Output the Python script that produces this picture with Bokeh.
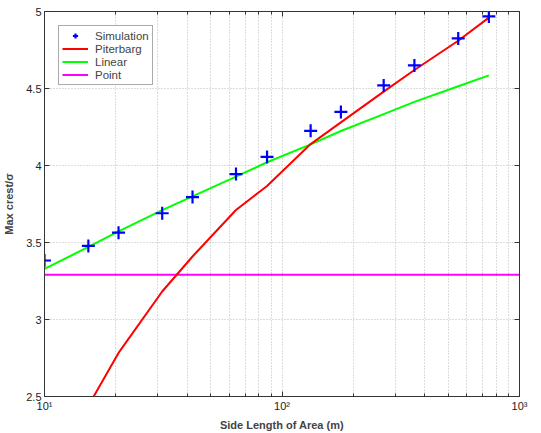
from bokeh.plotting import figure
from bokeh.models import (Range1d, FixedTicker, LinearAxis, LogAxis, Legend, LegendItem)
from bokeh.embed import file_html
from bokeh.resources import INLINE

# data
side_length = [10, 15.3, 20.5, 31.3, 42, 64, 86.5, 132, 177, 268, 361, 552, 743]
simulation = [3.383, 3.478, 3.564, 3.69, 3.795, 3.944, 4.056, 4.225, 4.348, 4.52, 4.65, 4.825, 4.968]
linear = [3.329, 3.471, 3.572, 3.71, 3.80, 3.928, 4.021, 4.137, 4.224, 4.334, 4.413, 4.515, 4.585]
pit_x = [15.3, 20.5, 31.3, 42, 64, 86.5, 132, 177, 268, 361, 552, 743]
piterbarg = [2.44, 2.783, 3.182, 3.409, 3.711, 3.867, 4.139, 4.28, 4.48, 4.62, 4.81, 4.96]
point_x = [10, 1000]
point = [3.29, 3.29]

x_major = [10, 100, 1000]
x_minor = [20, 30, 40, 50, 60, 70, 80, 90, 200, 300, 400, 500, 600, 700, 800, 900]
x_labels = {10: "10¹", 100: "10²", 1000: "10³"}
y_ticks = [2.5, 3, 3.5, 4, 4.5, 5]
y_labels = {2.5: "2.5", 3: "3", 3.5: "3.5", 4: "4", 4.5: "4.5", 5: "5"}

FONT = "Liberation Sans"
AX = "#333333"

p = figure(width=541, height=433, x_axis_type="log",
           x_range=Range1d(10, 1000), y_range=Range1d(2.5, 5),
           output_backend="svg", toolbar_location=None,
           min_border_left=44, min_border_right=22, min_border_top=11, min_border_bottom=36)
p.background_fill_color = "white"
p.border_fill_color = "white"
p.outline_line_color = AX
p.outline_line_width = 1

def style_axis(ax, labels=True):
    ax.axis_line_color = AX
    ax.major_tick_line_color = AX
    ax.minor_tick_line_color = AX
    ax.major_tick_in = 5
    ax.major_tick_out = 0
    ax.minor_tick_in = 3
    ax.minor_tick_out = 0
    ax.major_label_text_font = FONT
    ax.major_label_text_font_size = "11px"
    ax.major_label_text_color = "#222222"
    if not labels:
        ax.major_label_text_alpha = 0
        ax.major_label_text_font_size = "1px"

xt = FixedTicker(ticks=x_major, minor_ticks=x_minor)
yt = FixedTicker(ticks=y_ticks, minor_ticks=[])

xa = p.xaxis[0]
xa.ticker = xt
xa.major_label_overrides = x_labels
xa.axis_label = "Side Length of Area (m)"
xa.axis_label_text_font = FONT
xa.axis_label_text_font_style = "bold"
xa.axis_label_text_font_size = "11px"
xa.axis_label_standoff = 4
xa.major_label_standoff = 3
style_axis(xa)

ya = p.yaxis[0]
ya.ticker = yt
ya.major_label_overrides = y_labels
ya.axis_label = "Max crest/σ"
ya.axis_label_text_font = FONT
ya.axis_label_text_font_style = "bold"
ya.axis_label_text_font_size = "11px"
ya.axis_label_standoff = 8
ya.major_label_standoff = 3
style_axis(ya)

top = LogAxis(ticker=FixedTicker(ticks=x_major, minor_ticks=x_minor))
style_axis(top, labels=False)
top.major_label_overrides = {10: "", 100: "", 1000: ""}
p.add_layout(top, "above")
right = LinearAxis(ticker=FixedTicker(ticks=y_ticks, minor_ticks=[]))
style_axis(right, labels=False)
right.major_label_overrides = {k: "" for k in y_ticks}
p.add_layout(right, "right")

for g in p.xgrid:
    g.ticker = xt
    g.grid_line_color = "#bbbbbb"
    g.grid_line_dash = "1 2"
    g.minor_grid_line_color = "#bbbbbb"
    g.minor_grid_line_dash = "1 2"
for g in p.ygrid:
    g.ticker = yt
    g.grid_line_color = "#bbbbbb"
    g.grid_line_dash = "1 2"

r_pt = p.line(point_x, point, line_color="#ff00ff", line_width=2)
r_lin = p.line(side_length, linear, line_color="#00ff00", line_width=2)
r_pit = p.line(pit_x, piterbarg, line_color="#ff0000", line_width=2)
r_sim = p.scatter(side_length, simulation, marker="cross", size=13, line_width=2.2,
                  line_color="#0000ff")

legend = Legend(items=[
    LegendItem(label="Simulation", renderers=[r_sim]),
    LegendItem(label="Piterbarg", renderers=[r_pit]),
    LegendItem(label="Linear", renderers=[r_lin]),
    LegendItem(label="Point", renderers=[r_pt]),
], location="top_left")
legend.margin = 14
legend.padding = 3
legend.spacing = 0
legend.label_text_font = FONT
legend.label_text_font_size = "11.5px"
legend.label_height = 13
legend.glyph_height = 13
legend.glyph_width = 26
legend.label_standoff = 7
legend.border_line_color = "#555555"
legend.border_line_width = 1
legend.background_fill_color = "white"
legend.background_fill_alpha = 1
p.add_layout(legend, "center")

open("out.html", "w").write(file_html(p, INLINE))
